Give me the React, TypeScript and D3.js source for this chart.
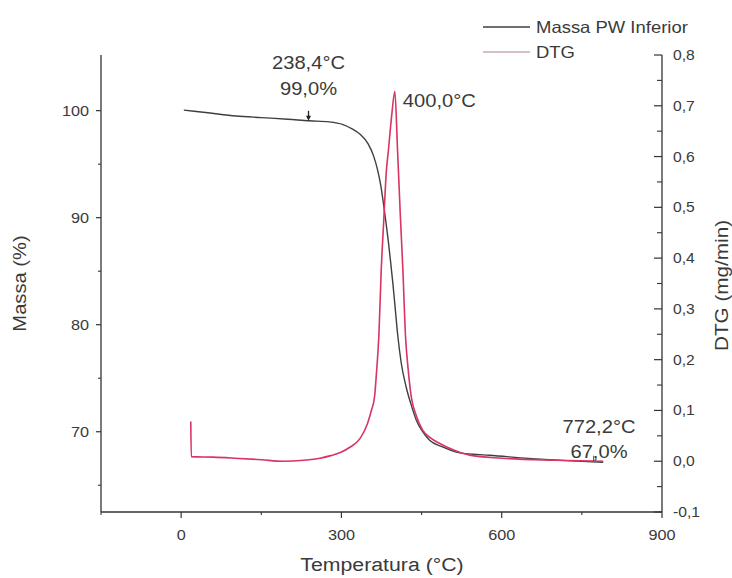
import React from "react";
import * as d3 from "d3";

const massT = [5, 50, 103, 150, 200, 240, 277, 303, 320, 335, 350, 360, 368, 374, 379, 384, 388, 392, 396, 400, 405, 412, 421, 430, 440, 452, 465, 488, 515, 545, 577, 650, 720, 790];
const massV = [100.05, 99.8, 99.5, 99.35, 99.2, 99.05, 98.95, 98.7, 98.3, 97.8, 96.9, 95.8, 94.4, 92.9, 91.2, 89.3, 87.7, 85.9, 84.0, 81.9, 79.2, 76.4, 74.2, 72.6, 71.1, 70.0, 69.2, 68.6, 68.1, 67.9, 67.8, 67.5, 67.3, 67.15];

const dtgT = [18, 19, 60, 100, 150, 190, 230, 260, 280, 300, 315, 335, 349, 356, 362, 366, 370, 374.5, 379, 384, 388, 394, 400, 405, 410, 415, 420, 425, 430.7, 440, 452, 468, 484, 510, 540, 600, 700, 790];
const dtgV = [0.078, 0.009, 0.008, 0.006, 0.003, 0.0, 0.002, 0.006, 0.011, 0.018, 0.027, 0.045, 0.075, 0.1, 0.127, 0.18, 0.245, 0.377, 0.47, 0.57, 0.613, 0.68, 0.728, 0.613, 0.49, 0.377, 0.245, 0.18, 0.127, 0.09, 0.061, 0.045, 0.035, 0.022, 0.012, 0.006, 0.002, 0.0];

const xTicks = [0, 300, 600, 900];
const xMinor = [-150, 150, 450, 750];
const leftTicks = [70, 80, 90, 100];
const leftMinor = [65, 75, 85, 95];
const rightTicks = [-0.1, 0, 0.1, 0.2, 0.3, 0.4, 0.5, 0.6, 0.7, 0.8];
const rightMinor = [-0.05, 0.05, 0.15, 0.25, 0.35, 0.45, 0.55, 0.65, 0.75];

const seriesNames = ["Massa PW Inferior", "DTG"];
const massColor = "#3b4040";
const dtgColor = "#d93462";

const fmtComma = (v: number, d: number) => v.toFixed(d).replace(".", ",");

const SX = 1.12;
const textColor = "#3a3a3a";

function T(props: { x: number; y: number; size: number; anchor?: string; rotate?: number; children: React.ReactNode }) {
  const { x, y, size, anchor = "start", rotate = 0, children } = props;
  return (
    <text
      transform={`translate(${x},${y}) rotate(${rotate}) scale(${SX},1)`}
      textAnchor={anchor}
      fontSize={size}
      fill={textColor}
    >
      {children}
    </text>
  );
}

export default function App() {
  const L = 101, R = 662, Tp = 55, B = 512;
  const x = d3.scaleLinear().domain([-150, 900]).range([L, R]);
  const yL = d3.scaleLinear().domain([62.5, 105.2]).range([B, Tp]);
  const yR = d3.scaleLinear().domain([-0.1, 0.8]).range([B, Tp]);

  const massData = massT.map((t, i) => [t, massV[i]] as [number, number]);
  const dtgData = dtgT.map((t, i) => [t, dtgV[i]] as [number, number]);

  const massLine = d3.line<[number, number]>().x(d => x(d[0])).y(d => yL(d[1])).curve(d3.curveMonotoneX);
  const dtgLine = d3.line<[number, number]>().x(d => x(d[0])).y(d => yR(d[1])).curve(d3.curveMonotoneX);

  const font = "'Liberation Sans', Arial, sans-serif";
  const axisColor = "#333";

  const a1x = x(238.4), a1y = yL(99.05);
  const a2x = x(400), a2y = yR(0.728);
  const a3x = x(772.2), a3y = yL(67.2);

  return (
    <svg width={732} height={578} style={{ position: "absolute", left: 0, top: 0, background: "#fff" }} fontFamily={font}>
      <path d={massLine(massData) || ""} fill="none" stroke={massColor} strokeWidth={1.4} />
      <path d={dtgLine(dtgData) || ""} fill="none" stroke={dtgColor} strokeWidth={1.6} />

      <line x1={L} x2={L} y1={Tp} y2={B} stroke={axisColor} strokeWidth={1.3} />
      <line x1={R} x2={R} y1={Tp} y2={B} stroke={axisColor} strokeWidth={1.3} />
      <line x1={L} x2={R} y1={B} y2={B} stroke={axisColor} strokeWidth={1.3} />

      {xTicks.map(t => (
        <g key={"xt" + t}>
          <line x1={x(t)} x2={x(t)} y1={B} y2={B + 6} stroke={axisColor} strokeWidth={1.2} />
          <T x={x(t)} y={B + 28} size={14.5} anchor="middle">{t}</T>
        </g>
      ))}
      {xMinor.map(t => (
        <line key={"xm" + t} x1={x(t)} x2={x(t)} y1={B} y2={B + 3} stroke={axisColor} strokeWidth={1.1} />
      ))}

      {leftTicks.map(t => (
        <g key={"lt" + t}>
          <line x1={L - 5} x2={L} y1={yL(t)} y2={yL(t)} stroke={axisColor} strokeWidth={1.2} />
          <T x={L - 12} y={yL(t) + 5} size={14.5} anchor="end">{t}</T>
        </g>
      ))}
      {leftMinor.map(t => (
        <line key={"lm" + t} x1={L - 3} x2={L} y1={yL(t)} y2={yL(t)} stroke={axisColor} strokeWidth={1.1} />
      ))}

      {rightTicks.map(t => (
        <g key={"rt" + t}>
          <line x1={R - 8} x2={R} y1={yR(t)} y2={yR(t)} stroke={axisColor} strokeWidth={1.2} />
          <T x={R + 11} y={yR(t) + 5} size={14} anchor="start">{fmtComma(t, 1)}</T>
        </g>
      ))}
      {rightMinor.map(t => (
        <line key={"rm" + t} x1={R - 5} x2={R} y1={yR(t)} y2={yR(t)} stroke={axisColor} strokeWidth={1.1} />
      ))}

      <T x={382} y={571} size={19} anchor="middle">Temperatura (°C)</T>
      <T x={26} y={(Tp + B) / 2} size={18} anchor="middle" rotate={-90}>Massa (%)</T>
      <T x={728} y={(Tp + B) / 2 + 2} size={18.5} anchor="middle" rotate={-90}>DTG (mg/min)</T>

      <line x1={483} x2={530} y1={27} y2={27} stroke={massColor} strokeWidth={1.3} />
      <T x={536} y={33} size={16.5}>{seriesNames[0]}</T>
      <line x1={483} x2={530} y1={52} y2={52} stroke="#c9a9b2" strokeWidth={1.3} />
      <T x={536} y={58} size={16.5}>{seriesNames[1]}</T>

      <line x1={a1x} x2={a1x} y1={a1y - 10} y2={a1y - 2} stroke="#222" strokeWidth={1.3} />
      <path d={`M${a1x - 2.5},${a1y - 5}L${a1x + 2.5},${a1y - 5}L${a1x},${a1y}Z`} fill="#222" />
      <T x={a1x} y={69} size={18} anchor="middle">{fmtComma(238.4, 1) + "°C"}</T>
      <T x={a1x} y={95} size={18} anchor="middle">{fmtComma(99.0, 1) + "%"}</T>

      <T x={a2x + 8} y={a2y + 15} size={18}>{fmtComma(400.0, 1) + "°C"}</T>

      <line x1={a3x} x2={a3x} y1={a3y - 6} y2={a3y} stroke="#444" strokeWidth={1} />
      <T x={599} y={433} size={18} anchor="middle">{fmtComma(772.2, 1) + "°C"}</T>
      <T x={599} y={458} size={18} anchor="middle">{fmtComma(67.0, 1) + "%"}</T>
    </svg>
  );
}
